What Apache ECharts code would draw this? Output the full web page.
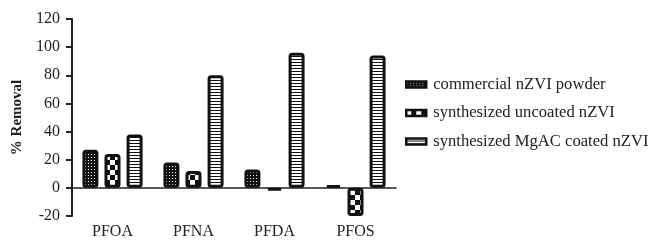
<!DOCTYPE html>
<html>
<head>
<meta charset="utf-8">
<script src="https://cdn.jsdelivr.net/npm/echarts@6/dist/echarts.min.js"></script>
<style>
  html, body { margin: 0; padding: 0; background: #fff; }
  #main { width: 652px; height: 240px; }
</style>
</head>
<body>
<div id="main"></div>
<script>
// data
var categories = ["PFOA", "PFNA", "PFDA", "PFOS"];
var seriesNames = ["commercial nZVI powder", "synthesized uncoated nZVI", "synthesized MgAC coated nZVI"];
var commercial = [27, 18, 13, 2];
var uncoated = [24, 12, -2, -20];
var coated = [38, 80, 96, 94];

// fill patterns, drawn on small canvases
function makePattern(w, h, draw) {
  var c = document.createElement("canvas");
  c.width = w;
  c.height = h;
  var ctx = c.getContext("2d");
  draw(ctx);
  return { image: c, repeat: "repeat" };
}

var dotPattern = makePattern(3, 3, function (ctx) {
  ctx.fillStyle = "#111";
  ctx.fillRect(0, 0, 3, 3);
  ctx.fillStyle = "#fff";
  ctx.fillRect(1, 1, 1, 1);
});

var checkPattern = makePattern(10, 10, function (ctx) {
  ctx.fillStyle = "#111";
  ctx.fillRect(0, 0, 10, 10);
  ctx.fillStyle = "#fff";
  ctx.fillRect(0, 0, 5, 5);
  ctx.fillRect(5, 5, 5, 5);
});

var stripePattern = makePattern(4, 3, function (ctx) {
  ctx.fillStyle = "#fff";
  ctx.fillRect(0, 0, 4, 3);
  ctx.fillStyle = "#111";
  ctx.fillRect(0, 2, 4, 1);
});

var patterns = [dotPattern, checkPattern, stripePattern];
var values = [commercial, uncoated, coated];

var myChart = echarts.init(document.getElementById("main"));

var serif = "Liberation Serif";

var series = [];
for (var i = 0; i < values.length; i++) {
  series.push({
    name: seriesNames[i],
    type: "bar",
    data: values[i],
    barWidth: 16,
    barGap: "38%",
    itemStyle: {
      color: patterns[i],
      borderColor: "#111",
      borderWidth: 3,
      borderRadius: 2,
    },
  });
}

var option = {
  animation: false,
  grid: {
    left: 72,
    right: 256,
    top: 19,
    bottom: 22,
  },
  legend: {
    orient: "vertical",
    left: 400,
    top: 71,
    itemWidth: 20,
    itemHeight: 6,
    itemGap: 11.5,
    icon: "rect",
    itemStyle: { borderWidth: 2.5 },
    textStyle: {
      fontFamily: serif,
      fontSize: 16.6,
      lineHeight: 16,
      color: "#222",
      padding: [0, 0, 0, 2],
    },
    data: seriesNames,
  },
  xAxis: [
    {
      type: "category",
      data: categories,
      position: "bottom",
      axisLine: { show: false, onZero: false },
      axisTick: { show: false },
      axisLabel: {
        fontFamily: serif,
        fontSize: 16,
        color: "#222",
        margin: 8,
      },
    },
    {
      type: "category",
      data: categories,
      position: "bottom",
      axisLine: {
        show: true,
        onZero: true,
        lineStyle: { color: "#222", width: 1.5 },
      },
      axisTick: { show: false },
      axisLabel: { show: false },
    },
  ],
  yAxis: {
    type: "value",
    min: -20,
    max: 120,
    interval: 20,
    name: "% Removal",
    nameLocation: "middle",
    nameGap: 47,
    nameTextStyle: {
      fontFamily: serif,
      fontSize: 15,
      fontWeight: "bold",
      color: "#222",
    },
    axisLine: { show: true, lineStyle: { color: "#222", width: 2 } },
    axisTick: { show: true, length: 6, lineStyle: { color: "#222", width: 2 } },
    splitLine: { show: false },
    axisLabel: {
      fontFamily: serif,
      fontSize: 16,
      color: "#222",
      margin: 12,
    },
  },
  series: series,
};

myChart.setOption(option);
</script>
</body>
</html>
